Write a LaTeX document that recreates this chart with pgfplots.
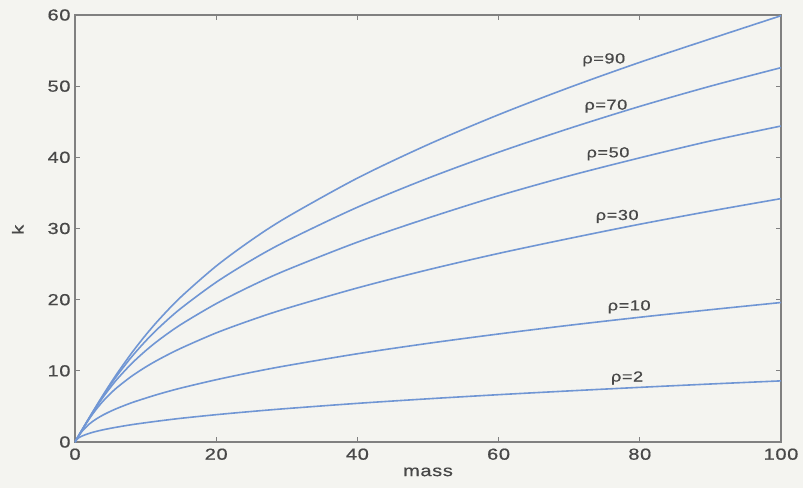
\documentclass[border=0pt]{standalone}
\usepackage{pgfplots}
\pgfplotsset{compat=1.18}
\usepackage{pgfplotstable}
\usepackage{fontspec}
\setmainfont{Liberation Sans}[FakeStretch=1.25, LetterSpace=4, FakeBold=0.6]
\definecolor{bgc}{RGB}{244,244,240}
\definecolor{linec}{RGB}{112,150,212}
\definecolor{txtc}{RGB}{72,72,72}
\definecolor{axc}{RGB}{128,128,128}
\pgfplotstableread{
m r2 r10 r30 r50 r70 r90
0 0 0 0 0 0 0
0.25 0.35 0.45 0.43 0.43 0.43 0.43
0.5 0.57 0.81 0.85 0.85 0.85 0.85
1 0.84 1.50 1.68 1.69 1.70 1.70
2 1.21 2.51 3.23 3.33 3.36 3.38
3 1.49 3.23 4.59 4.89 4.98 5.03
4 1.72 3.81 5.77 6.33 6.54 6.64
5 1.92 4.30 6.79 7.65 8.01 8.19
6 2.10 4.74 7.69 8.87 9.40 9.68
8 2.43 5.51 9.23 11.00 11.94 12.47
10 2.71 6.16 10.53 12.82 14.18 15.01
12 2.97 6.77 11.67 14.42 16.17 17.31
15 3.33 7.58 13.17 16.51 18.78 20.38
20 3.84 8.75 15.33 19.44 22.45 24.72
25 4.29 9.79 17.15 21.95 25.55 28.38
30 4.70 10.73 18.78 24.18 28.27 31.58
40 5.43 12.40 21.65 28.08 32.99 37.08
50 6.07 13.86 24.20 31.47 37.07 41.79
60 6.65 15.18 26.50 34.60 40.72 45.99
70 7.18 16.40 28.60 37.40 44.06 49.81
80 7.68 17.53 30.60 39.93 47.16 53.35
90 8.15 18.59 32.45 42.30 50.00 56.65
100 8.59 19.60 34.20 44.40 52.60 59.90
}\datatable
\begin{document}
\begin{tikzpicture}
\fill[bgc] (-75pt,-46pt) rectangle (728pt,442pt);
\begin{axis}[
  at={(0,0)}, anchor=south west,
  scale only axis,
  width=706pt, height=427pt,
  xmin=0, xmax=100, ymin=0, ymax=60,
  xtick={0,20,...,100}, ytick={0,10,...,60},
  tick align=inside,
  tick pos=both,
  major tick length=5pt,
  axis line style={axc, line width=1.4pt},
  every tick/.style={axc, line width=1pt},
  tick label style={font=\fontsize{16}{18}\selectfont, text=txtc},
  /pgf/number format/assume math mode=true,
  xticklabel style={yshift=-3pt},
  yticklabel style={xshift=-1pt},
  xlabel={mass}, ylabel={k},
  label style={font=\fontsize{16}{18}\selectfont, text=txtc},
  xlabel style={at={(axis description cs:0.5,-0.070)}, anchor=center},
  ylabel style={at={(axis description cs:-0.081,0.497)}, anchor=center},
  clip=true,
]
\addplot[linec, line width=1.6pt, mark=none, smooth] table[x=m, y=r2] {\datatable};
\addplot[linec, line width=1.6pt, mark=none, smooth] table[x=m, y=r10] {\datatable};
\addplot[linec, line width=1.6pt, mark=none, smooth] table[x=m, y=r30] {\datatable};
\addplot[linec, line width=1.6pt, mark=none, smooth] table[x=m, y=r50] {\datatable};
\addplot[linec, line width=1.6pt, mark=none, smooth] table[x=m, y=r70] {\datatable};
\addplot[linec, line width=1.6pt, mark=none, smooth] table[x=m, y=r90] {\datatable};
\begin{scope}[every node/.style={font=\fontsize{14.5}{16}\selectfont, text=txtc}]
\node at (axis cs:74.9,53.7) {ρ=90};
\node at (axis cs:75.2,47.2) {ρ=70};
\node at (axis cs:75.5,40.5) {ρ=50};
\node at (axis cs:76.8,31.7) {ρ=30};
\node at (axis cs:78.5,19.0) {ρ=10};
\node at (axis cs:78.2,9.0) {ρ=2};
\end{scope}
\end{axis}
\end{tikzpicture}
\end{document}
